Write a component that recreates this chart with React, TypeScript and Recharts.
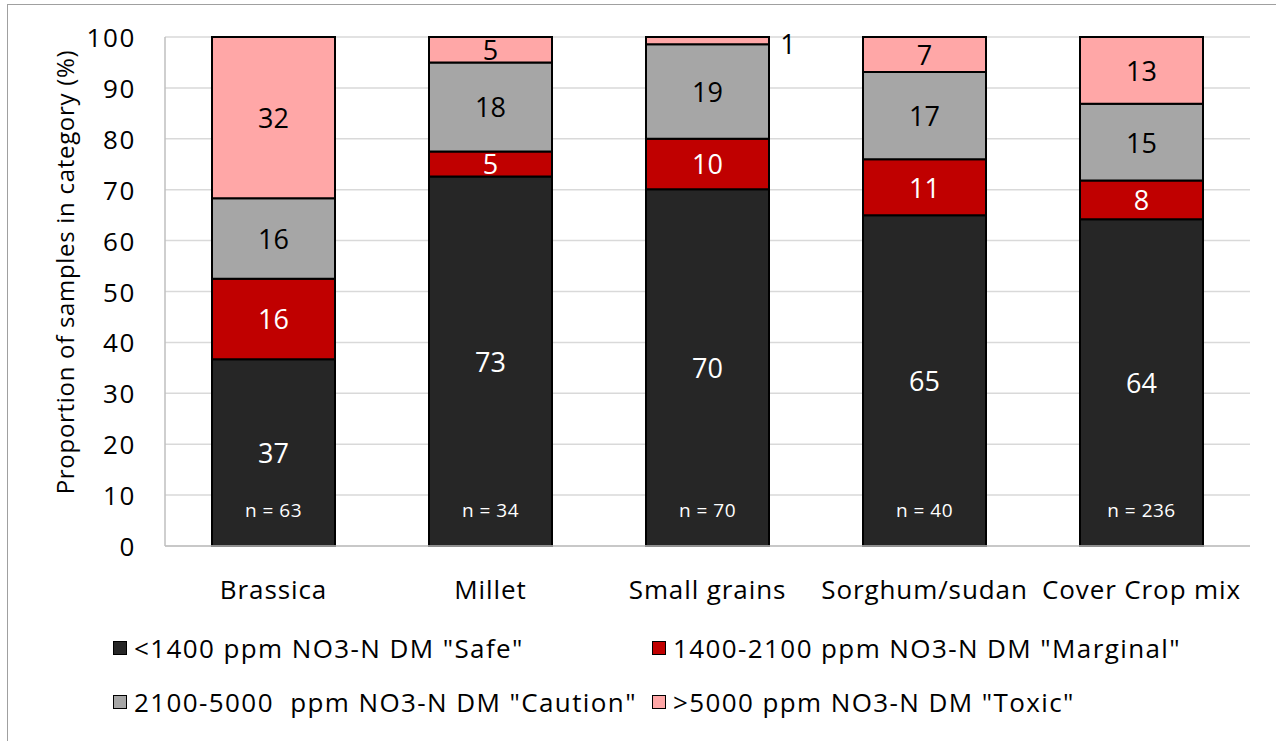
import {
  Bar,
  BarChart,
  CartesianGrid,
  LabelList,
  XAxis,
  YAxis,
} from "recharts";

const categories = ["Brassica", "Millet", "Small grains", "Sorghum/sudan", "Cover Crop mix"];
const safe = [36.7, 72.6, 70.1, 65.0, 64.2];
const marginal = [15.8, 4.9, 9.9, 11.0, 7.6];
const caution = [15.8, 17.5, 18.6, 17.1, 15.1];
const toxic = [31.7, 5.0, 1.4, 6.9, 13.1];
const sampleCounts = [63, 34, 70, 40, 236];
const yTicks = [0, 10, 20, 30, 40, 50, 60, 70, 80, 90, 100];

const COLOR_SAFE = "#262626";
const COLOR_MARGINAL = "#c00000";
const COLOR_CAUTION = "#a6a6a6";
const COLOR_TOXIC = "#ffa7a7";

// the source text is rendered wide, so Open Sans gets a touch of tracking
const FONT = "'Open Sans', sans-serif";

const series = [
  { key: "safe", name: '<1400 ppm NO3-N DM "Safe"', color: COLOR_SAFE, text: "#fff" },
  { key: "marginal", name: '1400-2100 ppm NO3-N DM "Marginal"', color: COLOR_MARGINAL, text: "#fff" },
  { key: "caution", name: '2100-5000  ppm NO3-N DM "Caution"', color: COLOR_CAUTION, text: "#000" },
  { key: "toxic", name: '>5000 ppm NO3-N DM "Toxic"', color: COLOR_TOXIC, text: "#000" },
];

const data = categories.map((c, i) => ({
  name: c,
  safe: safe[i],
  marginal: marginal[i],
  caution: caution[i],
  toxic: toxic[i],
  n: sampleCounts[i],
}));

// segment value, centred; tiny segments get their label pushed out to the right
function SegLabel(props: any) {
  const { x, y, width, height, value, fill } = props;
  const v = Math.round(value);
  if (height < 14) {
    return (
      <text x={x + width + 19} y={y + height / 2 + 3} textAnchor="middle" dominantBaseline="central"
        fontFamily={FONT} fontSize={27} fill="#000">{v}</text>
    );
  }
  return (
    <text x={x + width / 2} y={y + height / 2} textAnchor="middle" dominantBaseline="central"
      fontFamily={FONT} fontSize={27} fill={fill}>{v}</text>
  );
}

function NLabel(props: any) {
  const { x, y, width, height, index } = props;
  return (
    <text x={x + width / 2} y={y + height - 36} textAnchor="middle" dominantBaseline="central"
      fontFamily={FONT} fontSize={19} letterSpacing={0.5} fill="#fff">{`n = ${sampleCounts[index]}`}</text>
  );
}

function YTick(props: any) {
  const { x, y, payload } = props;
  return (
    <text x={x + 1} y={y} textAnchor="end" dominantBaseline="central" fontFamily={FONT} fontSize={26}
      letterSpacing={1.6} fill="#000">
      {payload.value}
    </text>
  );
}

function XTick(props: any) {
  const { x, y, payload } = props;
  return (
    <text x={x} y={y + 41} textAnchor="middle" dominantBaseline="central" fontFamily={FONT} fontSize={26}
      letterSpacing={0.9} fill="#000">
      {payload.value}
    </text>
  );
}

function YTitle() {
  return (
    <text x={64} y={272} transform="rotate(-90 64 272)" textAnchor="middle" dominantBaseline="central"
      fontFamily={FONT} fontSize={24} letterSpacing={0.7} fill="#000">
      Proportion of samples in category (%)
    </text>
  );
}

export default function App() {
  return (
    <div style={{ position: "absolute", left: 0, top: 0, width: 1276, height: 741, background: "#fff", overflow: "hidden" }}>
      <div style={{ position: "absolute", left: 7, top: 4, right: -10, bottom: -10, borderTop: "1.5px solid #a0a0a0", borderLeft: "1.5px solid #a0a0a0" }} />
      <BarChart
        width={1276}
        height={741}
        data={data}
        margin={{ top: 37, right: 26, bottom: 135, left: 0 }}
        barSize={123}
        style={{ position: "absolute", left: 0, top: 0 }}
      >
        <CartesianGrid stroke="#d9d9d9" strokeWidth={1.5} vertical={false} />
        <XAxis
          dataKey="name"
          height={60}
          stroke="#bfbfbf"
          strokeWidth={1.5}
          tickLine={false}
          tickSize={0}
          tick={<XTick />}
          interval={0}
        />
        <YAxis
          width={165}
          domain={[0, 100]}
          ticks={yTicks}
          stroke="#bfbfbf"
          strokeWidth={1.5}
          tickLine={false}
          tickSize={0}
          tickMargin={30}
          tick={<YTick />}
          label={<YTitle />}
        />
        {series.map((s) => (
          <Bar key={s.key} dataKey={s.key} stackId="a" fill={s.color} stroke="#000" strokeWidth={2}
            isAnimationActive={false}>
            <LabelList dataKey={s.key} content={(p: any) => <SegLabel {...p} fill={s.text} />} />
            {s.key === "safe" && <LabelList dataKey="n" content={(p: any) => <NLabel {...p} />} />}
          </Bar>
        ))}
      </BarChart>
      {series.map((s, i) => {
        const left = i % 2 === 0 ? 113 : 652;
        const top = i < 2 ? 648 : 702;
        return (
          <div key={s.key} style={{ position: "absolute", left, top: top - 18, height: 36, display: "flex", alignItems: "center", fontFamily: FONT, fontSize: 26, letterSpacing: 1.4, color: "#000", whiteSpace: "pre" }}>
            <span style={{ display: "inline-block", width: 12, height: 12, background: s.color, border: "1.5px solid #000", marginRight: 7 }} />
            <span>{s.name}</span>
          </div>
        );
      })}
    </div>
  );
}
